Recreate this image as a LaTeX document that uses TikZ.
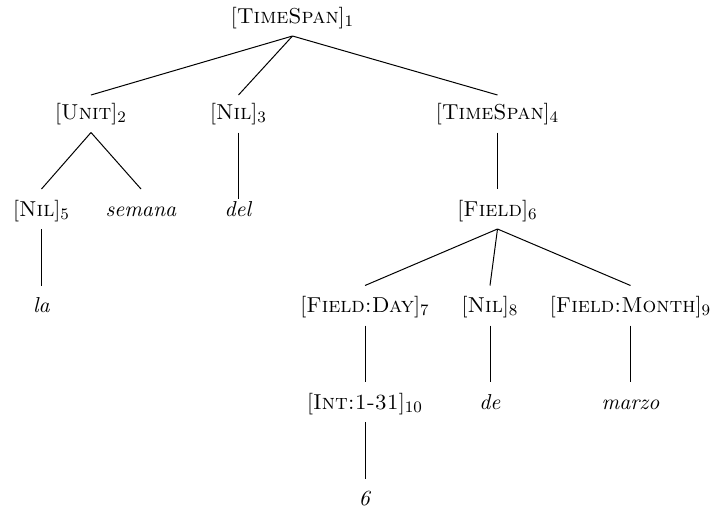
\documentclass[tikz,border=0pt]{standalone}
\begin{document}
\begin{tikzpicture}[x=0.5pt,y=-0.5pt,
  tnode/.style={anchor=base, inner sep=0pt, outer sep=0pt,
                font=\fontsize{10.8}{13}\selectfont,
                text height=13.5pt, text depth=6.5pt},
  upper/.style={text height=12.25pt},
  branch/.style={line width=0.5pt}]
\useasboundingbox (0,0) rectangle (713,509);

% level 1
\node[tnode] (ts1) at (292.5,23) {[\textsc{TimeSpan}]$_1$};
% level 2
\node[tnode,upper] (unit2) at (91,119.5) {[\textsc{Unit}]$_2$};
\node[tnode,upper] (nil3)  at (238.5,119.5) {[\textsc{Nil}]$_3$};
\node[tnode,upper] (ts4)   at (497.5,119.5) {[\textsc{TimeSpan}]$_4$};
% level 3
\node[tnode] (nil5)   at (41.5,216) {[\textsc{Nil}]$_5$};
\node[tnode] (semana) at (141,216) {\textit{semana}};
\node[tnode,text height=8.5pt] (del) at (238.5,216) {\textit{del}};
\node[tnode] (field6) at (497.5,216) {[\textsc{Field}]$_6$};
% level 4
\node[tnode] (la)    at (41.5,312.5) {\textit{la}};
\node[tnode] (day7)  at (365,312.5) {[\textsc{Field:Day}]$_7$};
\node[tnode] (nil8)  at (490,312.5) {[\textsc{Nil}]$_8$};
\node[tnode] (month9) at (630.5,312.5) {[\textsc{Field:Month}]$_9$};
% level 5
\node[tnode] (int10) at (365,409) {[\textsc{Int:1-31}]$_{10}$};
\node[tnode] (de)    at (490,409) {\textit{de}};
\node[tnode] (marzo) at (630.5,409) {\textit{marzo}};
% level 6
\node[tnode] (six) at (365,505.5) {\textit{6}};

% branches
\draw[branch] (ts1.south) -- (unit2.north);
\draw[branch] (ts1.south) -- (nil3.north);
\draw[branch] (ts1.south) -- (ts4.north);
\draw[branch] (unit2.south) -- (nil5.north);
\draw[branch] (unit2.south) -- (semana.north);
\draw[branch] (nil3.south) -- (del.north);
\draw[branch] (ts4.south) -- (field6.north);
\draw[branch] (nil5.south) -- (la.north);
\draw[branch] (field6.south) -- (day7.north);
\draw[branch] (field6.south) -- (nil8.north);
\draw[branch] (field6.south) -- (month9.north);
\draw[branch] (day7.south) -- (int10.north);
\draw[branch] (nil8.south) -- (de.north);
\draw[branch] (month9.south) -- (marzo.north);
\draw[branch] (int10.south) -- (six.north);
\end{tikzpicture}
\end{document}
